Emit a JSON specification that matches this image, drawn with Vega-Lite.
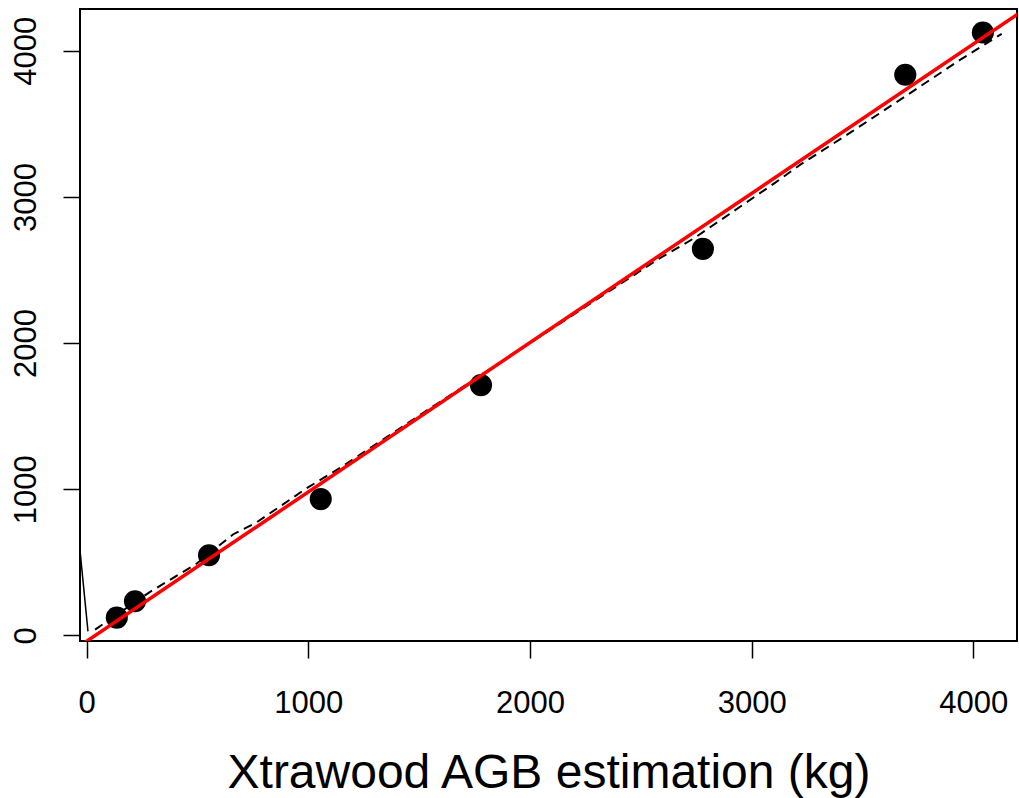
{
  "$schema": "https://vega.github.io/schema/vega-lite/v6.json",
  "width": 937,
  "height": 632,
  "autosize": "none",
  "padding": {"left": 80, "top": 9, "right": 2, "bottom": 157},
  "background": "white",
  "config": {
    "font": "Liberation Sans",
    "view": {"stroke": "black", "strokeWidth": 2}
  },
  "datasets": {
    "pts": [
      {"est": 136, "obs": 121},
      {"est": 218, "obs": 233},
      {"est": 552, "obs": 548},
      {"est": 1056, "obs": 932},
      {"est": 1779, "obs": 1712},
      {"est": 2780, "obs": 2644},
      {"est": 3693, "obs": 3836},
      {"est": 4043, "obs": 4125}
    ],
    "fit": [
      {"est": -100, "obs": -142.9},
      {"est": 4300, "obs": 4352.6}
    ],
    "smooth": [
      {"est": 38, "obs": 39},
      {"est": 286, "obs": 297},
      {"est": 497, "obs": 491},
      {"est": 660, "obs": 690},
      {"est": 768, "obs": 774},
      {"est": 993, "obs": 1007},
      {"est": 1151, "obs": 1153},
      {"est": 1517, "obs": 1521},
      {"est": 2000, "obs": 2000},
      {"est": 2572, "obs": 2568},
      {"est": 2742, "obs": 2719},
      {"est": 3105, "obs": 3096},
      {"est": 3218, "obs": 3219},
      {"est": 3443, "obs": 3438},
      {"est": 3669, "obs": 3664},
      {"est": 3940, "obs": 3938},
      {"est": 4128, "obs": 4116}
    ],
    "edge": [
      {"est": -30, "obs": 582},
      {"est": 6, "obs": 27}
    ]
  },
  "layer": [
    {
      "data": {"name": "edge"},
      "mark": {"type": "line", "color": "black", "strokeWidth": 1.5, "clip": true},
      "encoding": {
        "x": {"field": "est", "type": "quantitative"},
        "y": {"field": "obs", "type": "quantitative"}
      }
    },
    {
      "data": {"name": "smooth"},
      "mark": {"type": "line", "color": "black", "strokeWidth": 2, "strokeDash": [9, 6], "clip": true},
      "encoding": {
        "x": {"field": "est", "type": "quantitative"},
        "y": {"field": "obs", "type": "quantitative"}
      }
    },
    {
      "data": {"name": "pts"},
      "mark": {"type": "circle", "color": "black", "opacity": 1, "size": 490},
      "encoding": {
        "x": {"field": "est", "type": "quantitative"},
        "y": {"field": "obs", "type": "quantitative"}
      }
    },
    {
      "data": {"name": "fit"},
      "mark": {"type": "line", "color": "#ff0000", "strokeWidth": 3.5, "clip": true},
      "encoding": {
        "x": {
          "field": "est",
          "type": "quantitative",
          "scale": {"domain": [-30, 4197], "nice": false, "zero": false},
          "axis": {
            "values": [0, 1000, 2000, 3000, 4000],
            "format": "d",
            "grid": false,
            "domain": false,
            "tickSize": 17,
            "tickColor": "black",
            "tickWidth": 1.5,
            "labelFontSize": 31,
            "labelColor": "black",
            "labelBaseline": "alphabetic",
            "labelPadding": 54,
            "labelFlush": false,
            "labelOverlap": false,
            "title": "Xtrawood AGB estimation (kg)",
            "titleFontSize": 48,
            "titleFontWeight": "normal",
            "titleColor": "black",
            "titleBaseline": "alphabetic",
            "titleAlign": "center",
            "titleX": 468.5,
            "titleY": 146
          }
        },
        "y": {
          "field": "obs",
          "type": "quantitative",
          "scale": {"domain": [-39, 4286], "nice": false, "zero": false},
          "axis": {
            "values": [0, 1000, 2000, 3000, 4000],
            "format": "d",
            "grid": false,
            "domain": false,
            "tickSize": 17,
            "tickColor": "black",
            "tickWidth": 1.5,
            "labelFontSize": 31,
            "labelColor": "black",
            "labelAngle": 270,
            "labelAlign": "center",
            "labelBaseline": "alphabetic",
            "labelPadding": 28,
            "labelFlush": false,
            "labelOverlap": false,
            "title": null
          }
        }
      }
    }
  ]
}
